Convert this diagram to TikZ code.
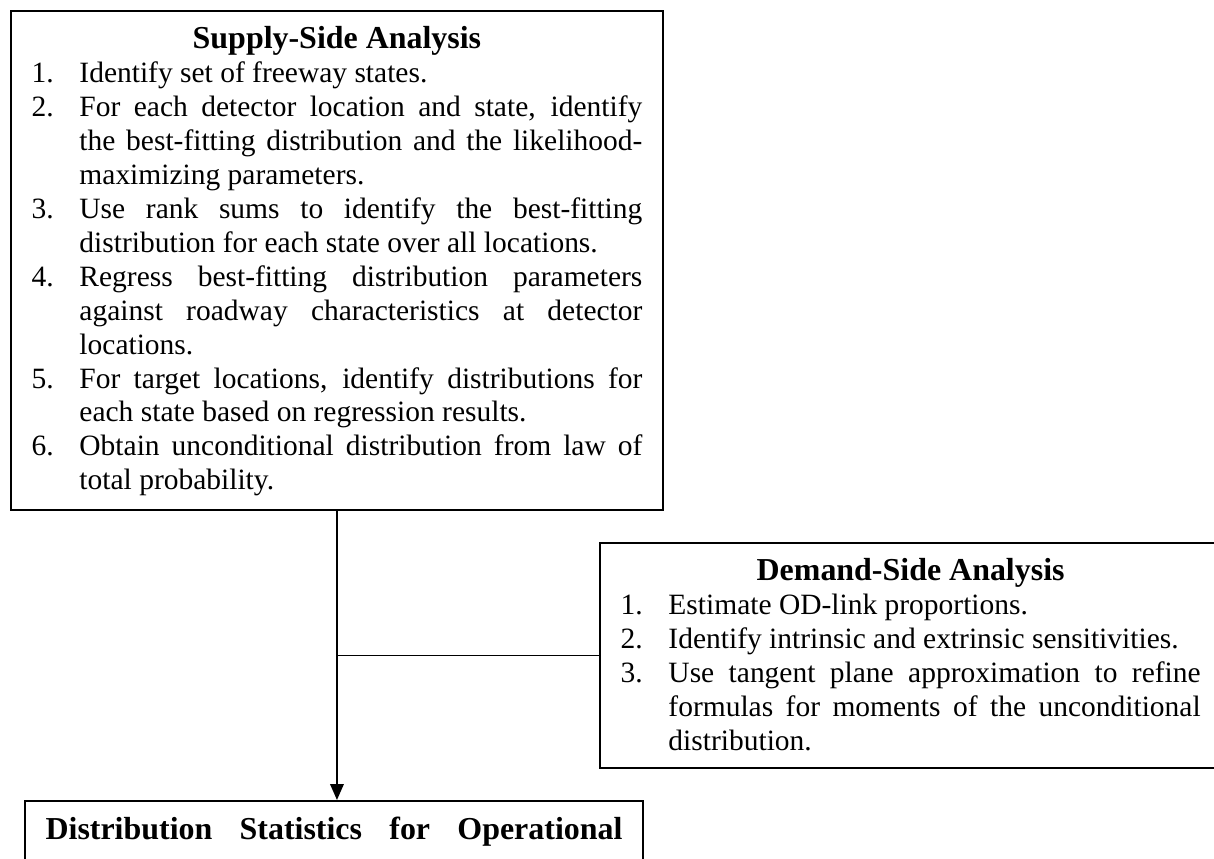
\documentclass[tikz,border=0pt]{standalone}
\usepackage{fontspec}
\setmainfont{Liberation Serif}
\usetikzlibrary{arrows.meta}

\newlength{\numw}\setlength{\numw}{19.5pt}
\newcommand{\heading}[1]{\hbox to\linewidth{\hfil\rule{0pt}{15.5pt}\fontsize{13}{15}\bfseries #1\hfil}}
\newcommand{\jnum}[2]{\hbox to\linewidth{\hbox to\numw{#1.\hfil}#2}}
\newcommand{\rnum}[2]{\hbox to\linewidth{\hbox to\numw{#1.\hfil}#2\hfil}}
\newcommand{\jcont}[1]{\hbox to\linewidth{\kern\numw #1}}
\newcommand{\rcont}[1]{\hbox to\linewidth{\kern\numw #1\hfil}}

\tikzset{
  panel/.style={draw, line width=0.75pt, anchor=north west, inner xsep=8.4pt, inner ysep=0pt, font=\fontsize{12}{13.8}\selectfont},
  link/.style={line width=0.75pt}
}

\begin{document}
\begin{tikzpicture}[x=0.407pt, y=-0.407pt]
\useasboundingbox (0,0) rectangle (1214,859);
\clip (0,0) rectangle (1214,859);
\node[panel] (supply) at (10,10) {\parbox[c][203.1pt][t]{248.6pt}{%
\heading{Supply-Side Analysis}
\rnum{1}{Identify set of freeway states.}
\jnum{2}{For each detector location and state, identify}
\jcont{the best-fitting distribution and the likelihood-}
\rcont{maximizing parameters.}
\jnum{3}{Use rank sums to identify the best-fitting}
\rcont{distribution for each state over all locations.}
\jnum{4}{Regress best-fitting distribution parameters}
\jcont{against roadway characteristics at detector}
\rcont{locations.}
\jnum{5}{For target locations, identify distributions for}
\rcont{each state based on regression results.}
\jnum{6}{Obtain unconditional distribution from law of}
\rcont{total probability.}}};
\node[panel] (demand) at (599,542) {\parbox[c][91.6pt][t]{236.1pt}{%
\heading{Demand-Side Analysis}
\rnum{1}{Estimate OD-link proportions.}
\rnum{2}{Identify intrinsic and extrinsic sensitivities.}
\jnum{3}{Use tangent plane approximation to refine}
\jcont{formulas for moments of the unconditional}
\rcont{distribution.}}};
\node[panel] (result) at (24,800) {\parbox[c][40pt][t]{234.8pt}{%
\hbox to\linewidth{\rule{0pt}{15.5pt}\fontsize{13}{15}\bfseries Distribution Statistics for Operational}}};
\draw[link, -{Triangle[width=5.5pt, length=6.5pt]}] (supply.south) -- (supply.south |- result.north);
\draw[link] (demand.west) -- (demand.west -| supply.south);
\end{tikzpicture}
\end{document}
